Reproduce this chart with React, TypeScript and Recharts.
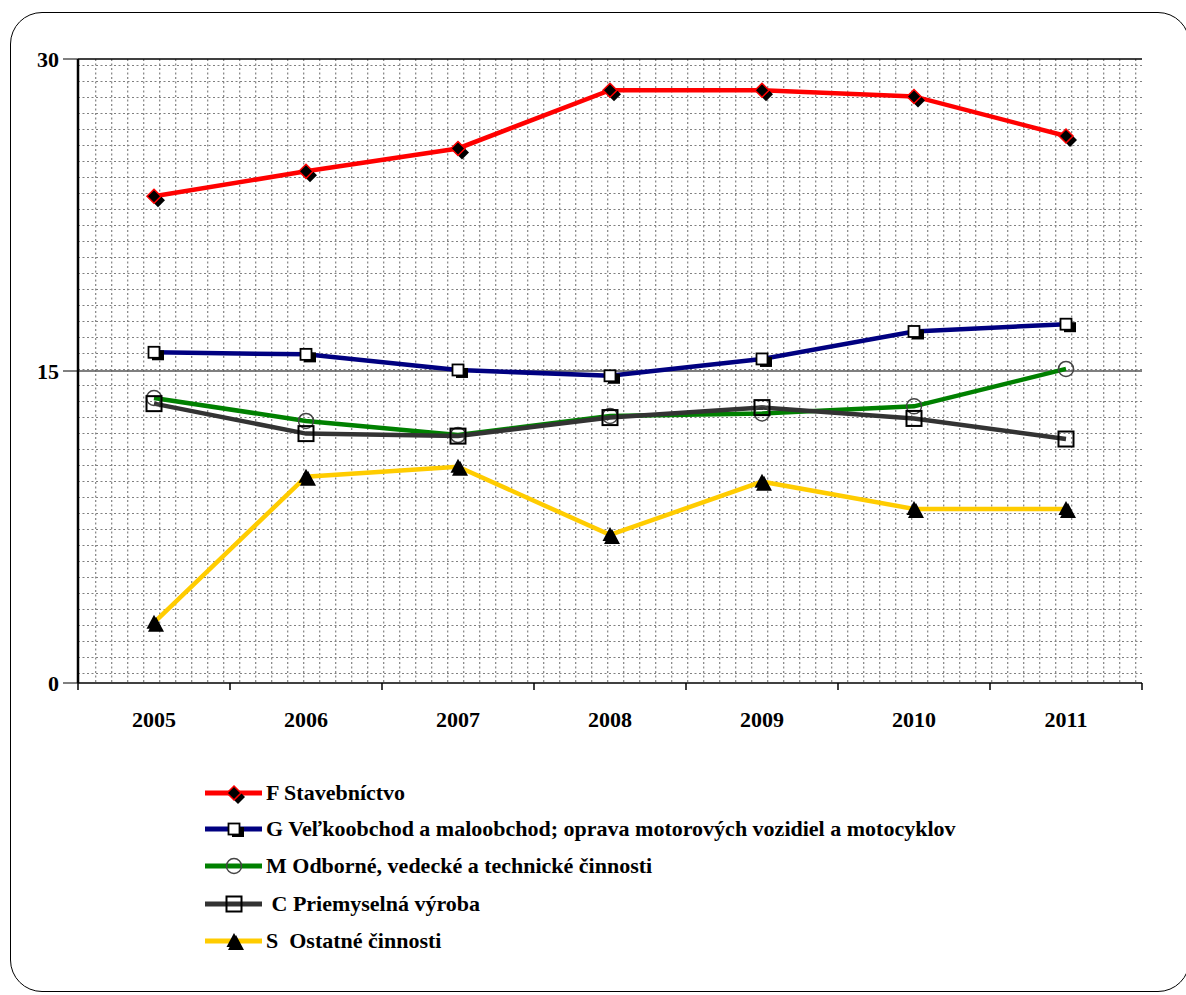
// App.tsx - Slovak sector chart 2005-2011
import React from 'react';
import { LineChart, Line, XAxis, YAxis, CartesianGrid, ReferenceLine } from 'recharts';

const years = ['2005', '2006', '2007', '2008', '2009', '2010', '2011'];
const stavebnictvo = [23.4, 24.6, 25.7, 28.5, 28.5, 28.2, 26.3];
const velkoobchod = [15.9, 15.8, 15.05, 14.77, 15.58, 16.9, 17.25];
const odborne = [13.7, 12.6, 11.92, 12.84, 12.96, 13.3, 15.1];
const priemysel = [13.43, 11.99, 11.87, 12.76, 13.24, 12.72, 11.73];
const ostatne = [2.9, 9.92, 10.4, 7.12, 9.68, 8.37, 8.37];
const yTicks = [0, 15, 30];

const labels = {
  F: 'F Stavebníctvo',
  G: 'G Veľkoobchod a maloobchod; oprava motorových vozidiel a motocyklov',
  M: 'M Odborné, vedecké a technické činnosti',
  C: ' C Priemyselná výroba',
  S: 'S  Ostatné činnosti',
};

const data = years.map((y, i) => ({
  year: y,
  F: stavebnictvo[i],
  G: velkoobchod[i],
  M: odborne[i],
  C: priemysel[i],
  S: ostatne[i],
}));

const COLORS = { F: '#FF0000', G: '#000080', M: '#008000', C: '#333333', S: '#FFCC00' };
const FONT = '"Liberation Serif", "Times New Roman", serif';
const HALF_BAND = 76;

// markers
const Diamond = ({ cx, cy }: any) => (
  <g>
    <polygon points={`${cx + 4},${cy - 3} ${cx + 11},${cy + 4} ${cx + 4},${cy + 11} ${cx - 3},${cy + 4}`} fill="#000" />
    <polygon points={`${cx},${cy - 7} ${cx + 7},${cy} ${cx},${cy + 7} ${cx - 7},${cy}`} fill="#000" stroke="#FF0000" strokeWidth={1.5} />
  </g>
);
const WhiteSquare = ({ cx, cy }: any) => (
  <g>
    <rect x={cx - 2} y={cy - 2} width={12} height={10} fill="#000" />
    <rect x={cx - 5.5} y={cy - 5.5} width={11} height={11} fill="#fff" stroke="#000" strokeWidth={1.8} />
  </g>
);
const Circle = ({ cx, cy }: any) => (
  <circle cx={cx} cy={cy} r={7.5} fill="none" stroke="#444" strokeWidth={1.5} />
);
const OpenSquare = ({ cx, cy }: any) => (
  <rect x={cx - 7.5} y={cy - 7.5} width={15} height={15} fill="none" stroke="#000" strokeWidth={2} />
);
const Triangle = ({ cx, cy }: any) => (
  <g>
    <polygon points={`${cx + 2},${cy - 6} ${cx + 10},${cy + 9} ${cx - 6},${cy + 9}`} fill="#000" />
    <polygon points={`${cx},${cy - 8} ${cx + 7.5},${cy + 6} ${cx - 7.5},${cy + 6}`} fill="#000" />
  </g>
);

const MARKERS: Record<string, any> = { F: Diamond, G: WhiteSquare, M: Circle, C: OpenSquare, S: Triangle };

const XTick = ({ x, y, payload, index }: any) => (
  <g>
    <line x1={x - HALF_BAND} y1={y - 7} x2={x - HALF_BAND} y2={y} stroke="#000" strokeWidth={1.5} />
    {index === years.length - 1 && (
      <line x1={x + HALF_BAND} y1={y - 7} x2={x + HALF_BAND} y2={y} stroke="#000" strokeWidth={1.5} />
    )}
    <text x={x} y={y + 37} textAnchor="middle" fontFamily={FONT} fontWeight="bold" fontSize={22} fill="#000">
      {payload.value}
    </text>
  </g>
);

const gridH = ({ offset }: any) => {
  const out: number[] = [];
  for (let p = offset.top + 6.5; p < offset.top + offset.height - 2; p += 16) out.push(p);
  return out;
};
const gridV = ({ offset }: any) => {
  const out: number[] = [];
  for (let p = offset.left + 17.7; p < offset.left + offset.width - 2; p += 16) out.push(p);
  return out;
};

const LegendRow = ({ k, top }: { k: keyof typeof labels; top: number }) => {
  const M = MARKERS[k];
  return (
    <div style={{ position: 'absolute', left: 204, top: top - 15, height: 30, display: 'flex', alignItems: 'center' }}>
      <svg width={60} height={30}>
        <line x1={1} y1={15} x2={58} y2={15} stroke={COLORS[k]} strokeWidth={5} />
        <M cx={30} cy={15} />
      </svg>
      <span style={{ fontFamily: FONT, fontWeight: 'bold', fontSize: 22, whiteSpace: 'pre', marginLeft: 2 }}>{labels[k]}</span>
    </div>
  );
};

export default function App() {
  const keys: (keyof typeof labels)[] = ['F', 'G', 'M', 'C', 'S'];
  const legendTops = [793, 829, 866, 904, 941];
  return (
    <div style={{ position: 'fixed', left: 0, top: 0, width: 1186, height: 995, overflow: 'hidden', background: '#fff' }}>
      <div
        style={{
          position: 'absolute',
          left: 10,
          top: 12,
          width: 1180,
          height: 980,
          border: '1.5px solid #000',
          borderRadius: 32,
          boxSizing: 'border-box',
        }}
      />
      <div style={{ position: 'absolute', left: 0, top: 0 }}>
        <LineChart width={1186} height={995} data={data} margin={{ top: 59, right: 44, left: 18, bottom: 272 }}>
          <CartesianGrid
            stroke="#808080"
            strokeDasharray="2 2.5"
            strokeWidth={1.2}
            horizontalCoordinatesGenerator={gridH}
            verticalCoordinatesGenerator={gridV}
          />
          <ReferenceLine y={30} stroke="#000" strokeWidth={1.5} />
          <ReferenceLine y={15} stroke="#555" strokeWidth={1.5} />
          <XAxis
            dataKey="year"
            height={40}
            tickSize={7}
            tickMargin={0}
            tickLine={false}
            padding={{ left: HALF_BAND, right: HALF_BAND }}
            axisLine={{ stroke: '#000', strokeWidth: 1.5 }}
            tick={<XTick />}
            interval={0}
          />
          <YAxis
            domain={[0, 30]}
            ticks={yTicks}
            width={60}
            tickSize={15}
            tickMargin={4}
            axisLine={{ stroke: '#000', strokeWidth: 2.5 }}
            tickLine={{ stroke: '#000', strokeWidth: 1 }}
            tick={{ fill: '#000', fontFamily: FONT, fontWeight: 'bold', fontSize: 22 }}
          />
          <YAxis
            yAxisId="frame"
            orientation="right"
            domain={[0, 30]}
            width={0}
            tick={false}
            tickLine={false}
            axisLine={{ stroke: '#000', strokeWidth: 1.5 }}
          />
          {keys.map((k) => {
            const M = MARKERS[k];
            return (
              <Line
                key={k}
                type="linear"
                dataKey={k}
                stroke={COLORS[k]}
                strokeWidth={4.5}
                dot={(p: any) => <M key={`${k}-${p.index}`} cx={p.cx} cy={p.cy} />}
                activeDot={false}
                isAnimationActive={false}
              />
            );
          })}
        </LineChart>
      </div>
      {keys.map((k, i) => (
        <LegendRow key={k} k={k} top={legendTops[i]} />
      ))}
    </div>
  );
}
